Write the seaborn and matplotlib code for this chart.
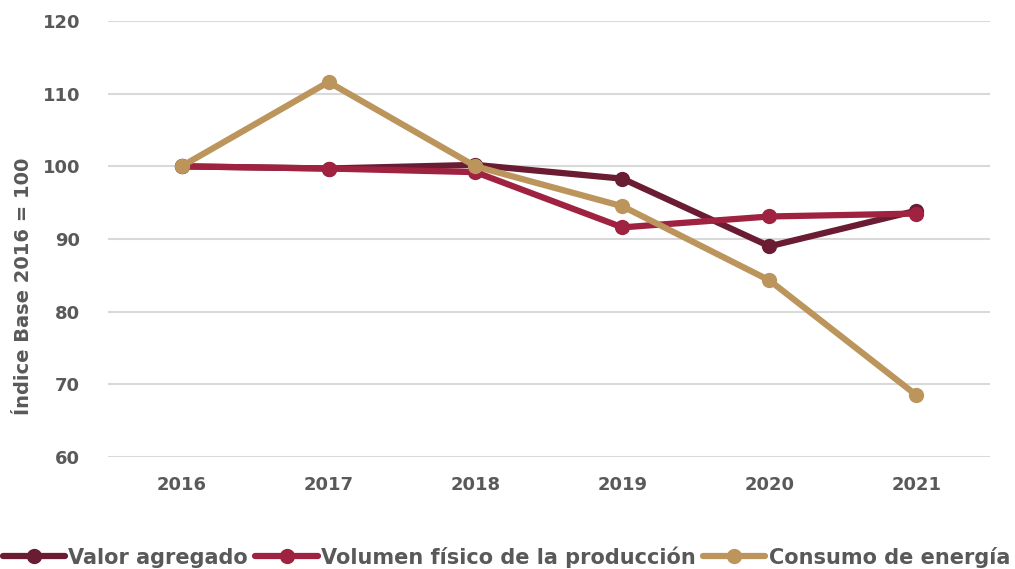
import matplotlib
matplotlib.use("Agg")
import matplotlib.pyplot as plt
import seaborn as sns
import pandas as pd

years = ["2016", "2017", "2018", "2019", "2020", "2021"]
valor_agregado = [100, 99.7, 100.2, 98.3, 89.0, 93.9]
volumen_fisico = [100, 99.7, 99.2, 91.6, 93.1, 93.5]
consumo_energia = [100, 111.6, 100, 94.5, 84.3, 68.5]
series_names = ["Valor agregado", "Volumen físico de la producción", "Consumo de energía"]
colors = ["#691C32", "#9F2241", "#BC955C"]
yticks = [60, 70, 80, 90, 100, 110, 120]

sns.set_theme(style="white")
plt.rcParams['font.family'] = ['DejaVu Sans']

df = pd.DataFrame({
    "year": years * 3,
    "value": valor_agregado + volumen_fisico + consumo_energia,
    "serie": [series_names[0]] * 6 + [series_names[1]] * 6 + [series_names[2]] * 6,
})

fig = plt.figure(figsize=(10.15, 5.69), dpi=100)
ax_w = (990-108)/1015
ax_h = (457-21)/569
ax = fig.add_axes([108/1015, 1 - 457/569, ax_w, ax_h])

sns.lineplot(data=df, x="year", y="value", hue="serie", palette=colors,
             hue_order=series_names, marker="o", markersize=11, linewidth=4.5,
             markeredgewidth=0, ax=ax, sort=False, legend=True)

ax.set_ylim(60, 120)
ax.set_xlim(-0.5, 5.5)
ax.set_yticks(yticks)
ax.yaxis.grid(True, color="#d9d9d9", linewidth=1.5)
ax.xaxis.grid(False)
for s in ax.spines.values():
    s.set_visible(False)
ax.tick_params(axis="both", length=0, labelsize=13, labelcolor="#595959")
ax.tick_params(axis="x", pad=14)
ax.tick_params(axis="y", pad=20)
for lbl in ax.get_xticklabels() + ax.get_yticklabels():
    lbl.set_fontweight("bold")
ax.set_xlabel("")
ax.set_ylabel("Índice Base 2016 = 100", fontsize=14, fontweight="bold", color="#595959")
ax.yaxis.label.set_va("center")
ax.yaxis.set_label_coords(-(108-23)/1015/ax_w, (457-286)/436)

handles, labels = ax.get_legend_handles_labels()
leg = ax.legend(handles, labels, loc="center left",
                bbox_to_anchor=(-108/1015 / ax_w + 0.003, -(557-457)/436),
                ncol=3, frameon=False, handlelength=3.0, handletextpad=0.15,
                columnspacing=0.35, borderaxespad=0, borderpad=0,
                prop={"weight": "bold", "size": 15})
for t in leg.get_texts():
    t.set_color("#595959")

fig.savefig("out.png", dpi=100)
